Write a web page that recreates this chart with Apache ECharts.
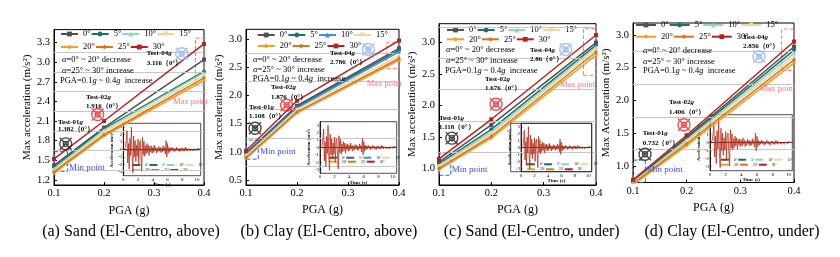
<!DOCTYPE html>
<html><head><meta charset="utf-8">
<script src="https://cdn.jsdelivr.net/npm/echarts@6/dist/echarts.min.js"></script>
<style>html,body{margin:0;padding:0;background:#fff}#c{width:840px;height:257px}</style>
</head><body><div id="c"></div>
<script>
const FONT = 'Liberation Serif';
// ---------- data ----------
const pga = [0.1, 0.2, 0.4];
const angles = ['0°', '5°', '10°', '15°', '20°', '25°', '30°'];
// max acceleration per angle (rows) at PGA 0.1/0.2/0.4
const sandAbove = [[1.42, 2.00, 3.04], [1.39, 1.98, 2.86], [1.37, 1.96, 2.84], [1.34, 1.93, 2.80], [1.30, 1.87, 2.72], [1.32, 1.89, 2.76], [1.52, 2.10, 3.28]];
const clayAbove = [[0.98, 1.82, 2.84], [0.96, 1.80, 2.81], [0.95, 1.78, 2.78], [0.93, 1.75, 2.71], [0.88, 1.69, 2.63], [0.90, 1.71, 2.66], [1.02, 1.91, 2.98]];
const sandUnder = [[1.10, 1.69, 3.00], [1.07, 1.62, 2.96], [1.05, 1.58, 2.93], [1.03, 1.55, 2.89], [0.98, 1.48, 2.80], [1.00, 1.51, 2.85], [1.15, 1.78, 3.12]];
const clayUnder = [[0.77, 1.44, 2.82], [0.76, 1.42, 2.77], [0.75, 1.40, 2.72], [0.74, 1.37, 2.67], [0.71, 1.31, 2.57], [0.73, 1.34, 2.62], [0.79, 1.47, 2.90]];
// tick labels
const yTicksA = [1.2, 1.5, 1.8, 2.1, 2.4, 2.7, 3.0, 3.3];
const yTicksB = [0.5, 1.0, 1.5, 2.0, 2.5, 3.0];
const yTicksC = [1.0, 1.5, 2.0, 2.5, 3.0];
const yTicksD = [1.0, 1.5, 2.0, 2.5, 3.0];
const grayA = [1.35, 1.65, 1.95, 2.25, 2.55, 2.85, 3.15];
const grayB = [0.75, 1.25, 1.75, 2.25, 2.75];
const grayC = [1.25, 1.75, 2.25, 2.75, 3.25];
const grayD = [1.25, 1.75, 2.25, 2.75];
// test markers (PGA, acc): Test-01g, Test-02g, Test-04g
const markA = [[0.1234, 1.75], [0.1874, 2.20], [0.3554, 3.13]];
const markB = [[0.1177, 1.42], [0.1796, 1.83], [0.340, 2.82]];
const markC = [[0.1245, 1.48], [0.2089, 2.02], [0.3422, 2.89]];
const markD = [[0.1224, 1.18], [0.1950, 1.63], [0.3348, 2.67]];
const testValsA = ['1.382', '1.916', '3.116'];
const testValsB = ['1.108', '1.876', '2.786'];
const testValsC = ['1.118', '1.676', '2.86'];
const testValsD = ['0.732', '1.406', '2.856'];
// min / max boxes [[x1,y1],[x2,y2]]
const minBoxA = [[0.101, 1.33], [0.127, 1.63]], maxBoxA = [[0.383, 2.65], [0.4, 3.37]];
const minBoxB = [[0.101, 0.87], [0.124, 1.21]], maxBoxB = [[0.376, 2.48], [0.4, 2.95]];
const minBoxC = [[0.101, 0.89], [0.1225, 1.23]], maxBoxC = [[0.376, 2.48], [0.4, 3.22]];
const minBoxD = [[0.101, 0.75], [0.123, 1.09]], maxBoxD = [[0.377, 2.46], [0.4, 3.09]];
// inset: El-Centro acceleration record (m/s2), sampled every 0.1 s
const insetDt = 0.1;
const insetAcc = [0, 0.1, -0.2, 0.3, 1.2, 2.5, -1.8, 0.8, -2.6, 1.5, -0.8, 3.0, -1.2, -3.1, 1.8, -1.0, 1.2, -1.6, 0.6, -0.9,
  1.4, -2.0, 0.9, 1.2, -1.1, -2.9, 1.6, -0.7, 1.1, -0.9, 0.5, -0.6, 0.8, -0.4, 0.6, -0.8, 0.4, -0.3, 0.5, -0.5,
  0.3, -0.4, 0.6, -0.2, 0.3, -0.5, 0.2, -0.3, 0.4, -0.2, 0.3, -0.4, 0.2, -0.3, 0.5, -0.2, 0.3, -0.6, 1.2, -1.0,
  0.8, -0.5, 0.3, -0.3, 0.2, -0.2, 0.3, -0.1, 0.2, -0.3, 0.1, -0.2, 0.3, -0.1, 0.2, -0.2, 0.1, -0.3, 0.2, -0.1,
  0.2, -0.2, 0.1, -0.2, 0.3, -0.1, 0.2, -0.2, 0.1, -0.1, 0.2, -0.2, 0.1, -0.1, 0.2, -0.2, 0.1, -0.1, 0.2, -0.1,
  0.1, -0.2, 0.1, -0.1, 0.1, 0];
const insetTicks = [-3, -2, -1, 0, 1, 2, 3];

// ---------- styles ----------
const colors = ['#505050', '#1f6e73', '#8fd6bd', '#efd69c', '#f4a020', '#d9731c', '#b3231f'];
const colorsB = ['#505050', '#1f6e73', '#3f8ee0', '#efd69c', '#f4a020', '#d9731c', '#b3231f'];
const symbols = ['rect', 'circle', 'triangle', 'triangle', 'diamond', 'diamond', 'rect'];
const symRot = [0, 0, 0, 180, 0, 0, 0];
const markColors = ['#1a1a1a', '#e8262a', '#92b2e8'];
const XMARK = 'path://M50,12 A38,38 0 1,1 49.9,12 Z M50,34 A16,16 0 1,1 49.9,34 Z M12,12 L88,88 M88,12 L12,88';

const panels = [
  { id: 'a', vals: sandAbove, cols: colors, grid: { left: 54, top: 29.6, width: 150, height: 155.4 }, ymin: 1.12, ymax: 3.5, yt: yTicksA, gray: grayA,
    yname: 'Max acceleration (m/s²)', ygap: 15, xgap: 20, mark: markA, tv: testValsA, minBox: minBoxA, maxBox: maxBoxA,
    leg: { left: 60, r1: 34, r2: 47, iw: 17, tw: 10 }, inset: { left: 123.3, top: 123.3, width: 77.4, height: 52.4 }, ileg: { dx: 8, r1: -10.7, r2: -5.7 },
    caption: '(a) Sand (El-Centro, above)', cx: 131,
    txt: { dec: [62, 60], inc: [62, 70.7], pga: [60, 80.7], t1: [58, 121.7], v1: [58, 129], t2: [86, 97], v2: [86, 106], t4: [146.7, 53.3], v4: [146.7, 62.7], mn: [69, 168], mx: [173, 101.7] } },
  { id: 'b', vals: clayAbove, cols: colorsB, grid: { left: 246, top: 29.3, width: 153, height: 155.7 }, ymin: 0.41, ymax: 3.18, yt: yTicksB, gray: grayB,
    yname: 'Max acceleration (m/s²)', ygap: 14.5, xgap: 19, mark: markB, tv: testValsB, minBox: minBoxB, maxBox: maxBoxB,
    leg: { left: 256.7, r1: 35, r2: 46, iw: 17, tw: 10 }, inset: { left: 320, top: 121.7, width: 76.7, height: 51.6 }, ileg: { dx: 8, r1: -15.6, r2: -11.6 },
    caption: '(b) Clay (El-Centro, above)', cx: 329,
    txt: { dec: [253, 60], inc: [253, 69.3], pga: [252.7, 79], t1: [249, 107.3], v1: [249, 116], t2: [271, 87.3], v2: [271, 96.7], t4: [330, 53.3], v4: [330, 61.7], mn: [260, 151.7], mx: [366.7, 83.3] } },
  { id: 'c', vals: sandUnder, cols: colors, grid: { left: 439, top: 23.7, width: 157, height: 161.3 }, ymin: 0.735, ymax: 3.3, yt: yTicksC, gray: grayC,
    yname: 'Max acceleration (m/s²)', ygap: 18.5, xgap: 19, mark: markC, tv: testValsC, minBox: minBoxC, maxBox: maxBoxC,
    leg: { left: 446, r1: 30, r2: 39.3, iw: 17, tw: 10.7 }, inset: { left: 521, top: 123.3, width: 70.7, height: 48.4 }, ileg: { dx: 5, r1: -7.4, r2: -2.4 },
    caption: '(c) Sand (El-Centro, under)', cx: 531.7,
    txt: { dec: [446, 49.3], inc: [446, 60.7], pga: [445, 70.7], t1: [439, 118.3], v1: [439, 127.3], t2: [485, 79.3], v2: [485, 88.3], t4: [530, 50], v4: [530, 58.7], mn: [451.7, 169.3], mx: [560, 85] } },
  { id: 'd', vals: clayUnder, cols: colors, grid: { left: 633, top: 23, width: 161, height: 159.5 }, ymin: 0.748, ymax: 3.183, yt: yTicksD, gray: grayD,
    yname: 'Max Acceleration (m/s²)', ygap: 15, xgap: 18, mark: markD, tv: testValsD, minBox: minBoxD, maxBox: maxBoxD,
    leg: { left: 635, r1: 25, r2: 36.7, iw: 20, tw: 12 }, inset: { left: 710, top: 114.7, width: 82.3, height: 56 }, ileg: { dx: 10, r1: -11, r2: -6 },
    caption: '(d) Clay (El-Centro, under)', cx: 732,
    txt: { dec: [643, 50.7], inc: [643, 61.7], pga: [643, 71], t1: [642.7, 133.3], v1: [642.7, 143.3], t2: [669, 101.7], v2: [669, 111.7], t4: [743, 36.7], v4: [743, 45.7], mn: [647, 170], mx: [760, 88.3] } }
];

const grids = [], xAxes = [], yAxes = [], series = [], legends = [], graphics = [];
const nameOf = (p, a) => p.id + '|' + a;
const insetData = insetAcc.map((v, k) => [+(k * insetDt).toFixed(1), v]);

function txt(x, y, text, size, opts) {
  graphics.push(Object.assign({ type: 'text', x: x, y: y, z: 100, style: Object.assign({
    text: text, fontFamily: FONT, fontSize: size, fill: '#000', verticalAlign: 'middle', align: 'left'
  }, opts || {}) }));
}

panels.forEach((p, i) => {
  const gi = i * 2, ii = i * 2 + 1;
  grids.push(Object.assign({ show: true, borderColor: '#000', borderWidth: 1, backgroundColor: 'transparent' }, p.grid));
  grids.push(Object.assign({ show: true, borderColor: '#222', borderWidth: 0.8, backgroundColor: 'transparent' }, p.inset));
  xAxes.push({ type: 'value', gridIndex: gi, min: 0.1, max: 0.4, interval: 0.1,
    name: 'PGA (g)', nameLocation: 'middle', nameGap: p.xgap, nameTextStyle: { fontFamily: FONT, fontSize: 12, color: '#000' },
    axisLine: { lineStyle: { color: '#000' } }, axisTick: { inside: true, length: 3, lineStyle: { color: '#000' } },
    axisLabel: { fontFamily: FONT, fontSize: 10.5, color: '#000', margin: 3, formatter: v => v.toFixed(1) }, splitLine: { show: false } });
  yAxes.push({ type: 'value', gridIndex: gi, min: p.ymin, max: p.ymax,
    name: p.yname, nameLocation: 'middle', nameGap: p.ygap, nameRotate: 90, nameTextStyle: { fontFamily: FONT, fontSize: 11, color: '#000' },
    axisLine: { lineStyle: { color: '#000' } }, axisTick: { customValues: p.yt, inside: true, length: 3, lineStyle: { color: '#000' } },
    axisLabel: { customValues: p.yt, fontFamily: FONT, fontSize: 10.5, color: '#000', margin: 4, formatter: v => v.toFixed(1) }, splitLine: { show: false } });
  xAxes.push({ type: 'value', gridIndex: ii, min: 0, max: 10.5, interval: 2,
    name: 'Time (s)', nameLocation: 'middle', nameGap: 6, nameTextStyle: { fontFamily: FONT, fontSize: 5, fontWeight: 'bold', color: '#000' },
    axisLine: { lineStyle: { color: '#000', width: 0.8 } }, axisTick: { inside: true, length: 1.5, lineStyle: { color: '#000', width: 0.5 } },
    axisLabel: { fontFamily: FONT, fontSize: 5, color: '#000', margin: 1 }, splitLine: { show: false } });
  yAxes.push({ type: 'value', gridIndex: ii, min: -3.5, max: 3.5,
    name: 'Acceleration (m/s²)', nameLocation: 'middle', nameGap: 6, nameRotate: 90, nameTextStyle: { fontFamily: FONT, fontSize: 4.5, fontWeight: 'bold', color: '#000' },
    axisLine: { lineStyle: { color: '#000', width: 0.8 } }, axisTick: { customValues: insetTicks, inside: true, length: 1.5, lineStyle: { color: '#000', width: 0.5 } },
    axisLabel: { customValues: insetTicks, fontFamily: FONT, fontSize: 5, color: '#000', margin: 1 }, splitLine: { show: false } });

  // background gray lines
  series.push({ type: 'line', name: p.id + '|bg', xAxisIndex: gi, yAxisIndex: gi, data: [], z: 1, silent: true,
    markLine: { silent: true, symbol: ['none', 'none'], label: { show: false }, animation: false,
      lineStyle: { color: '#c6c6c6', width: 1.2, type: 'solid' }, data: p.gray.map(v => ({ yAxis: v })) } });
  // curves
  angles.forEach((a, j) => {
    series.push({ type: 'line', name: nameOf(p, a), xAxisIndex: gi, yAxisIndex: gi, z: 3 + j,
      data: pga.map((x, k) => [x, p.vals[j][k]]),
      symbol: symbols[j], symbolRotate: symRot[j], symbolSize: 4, showSymbol: true,
      lineStyle: { width: 1.5, color: p.cols[j] }, itemStyle: { color: p.cols[j] }, emphasis: { disabled: true } });
  });
  // test markers + min/max boxes
  series.push({ type: 'scatter', name: p.id + '|mk', xAxisIndex: gi, yAxisIndex: gi, z: 12, silent: true,
    symbol: XMARK, symbolSize: 12, symbolKeepAspect: true,
    itemStyle: { color: 'rgba(0,0,0,0)', borderWidth: 1.4 },
    data: p.mark.map((pt, k) => ({ value: pt, itemStyle: { borderColor: markColors[k] } })),
    markArea: { silent: true, animation: false, label: { show: false },
      itemStyle: { color: 'rgba(0,0,0,0)', borderWidth: 1, borderType: 'dashed' },
      data: [
        [{ coord: p.minBox[0], itemStyle: { borderColor: '#3a55ff', color: 'rgba(0,0,0,0)', borderType: 'dashed', borderWidth: 1 } }, { coord: p.minBox[1] }],
        [{ coord: p.maxBox[0], itemStyle: { borderColor: '#f07a8a', color: 'rgba(0,0,0,0)', borderType: 'dashed', borderWidth: 1 } }, { coord: p.maxBox[1] }]
      ] } });
  // inset record
  series.push({ type: 'line', name: p.id + '|inset', xAxisIndex: ii, yAxisIndex: ii, z: 6, silent: true,
    data: insetData, showSymbol: false, lineStyle: { width: 0.8, color: '#b8301c' } });

  // legends
  const mk = (names, top, left, iw, ih, tw, fs, gap) => ({
    data: names, top: top, left: left, orient: 'horizontal', itemWidth: iw, itemHeight: ih, itemGap: gap, padding: 0,
    selectedMode: false, formatter: n => n.split('|')[1],
    textStyle: { fontFamily: FONT, fontSize: fs, color: '#000', width: tw }
  });
  const row1 = angles.slice(0, 4).map(a => nameOf(p, a)), row2 = angles.slice(4).map(a => nameOf(p, a));
  legends.push(mk(row1, p.leg.r1 - 4.5, p.leg.left, p.leg.iw, 6, p.leg.tw, 8.5, 0));
  legends.push(mk(row2, p.leg.r2 - 4.5, p.leg.left, p.leg.iw, 6, p.leg.tw, 8.5, 0));
  const ib = p.inset.top + p.inset.height;
  legends.push(mk(row1, ib + p.ileg.r1 - 2, p.inset.left + p.ileg.dx, 8, 2, 5, 3.5, 0));
  legends.push(mk(row2, ib + p.ileg.r2 - 2, p.inset.left + p.ileg.dx, 8, 2, 5, 3.5, 0));

  // annotations
  const t = p.txt;
  const it = { i: { fontStyle: 'italic', fontFamily: FONT, fontSize: 8.5 } };
  const itb = { i: { fontStyle: 'italic', fontWeight: 'bold', fontFamily: FONT, fontSize: 7 } };
  txt(t.dec[0], t.dec[1], '{i|α}=0° ~ 20° decrease', 8.5, { rich: it });
  txt(t.inc[0], t.inc[1], '{i|α}=25° ~ 30° increase', 8.5, { rich: it });
  txt(t.pga[0], t.pga[1], 'PGA=0.1{i|g} ~ 0.4{i|g}  increase', 8.5, { rich: it });
  txt(t.t1[0], t.t1[1], 'Test-01{i|g}', 7, { rich: itb, fontWeight: 'bold' });
  txt(t.v1[0], t.v1[1], p.tv[0] + '（0°）', 7, { fontWeight: 'bold' });
  txt(t.t2[0], t.t2[1], 'Test-02{i|g}', 7, { rich: itb, fontWeight: 'bold' });
  txt(t.v2[0], t.v2[1], p.tv[1] + '（0°）', 7, { fontWeight: 'bold' });
  txt(t.t4[0], t.t4[1], 'Test-04{i|g}', 7, { rich: itb, fontWeight: 'bold' });
  txt(t.v4[0], t.v4[1], p.tv[2] + '（0°）', 7, { fontWeight: 'bold' });
  txt(t.mn[0], t.mn[1], 'Min point', 9, { fill: '#3a4dff' });
  txt(t.mx[0], t.mx[1], 'Max point', 8.5, { fill: '#f07a8a' });
  txt(p.cx, 232, p.caption, 16, { align: 'center' });
});
// outer frame of inset (c)
graphics.push({ type: 'rect', z: 50, shape: { x: 510.7, y: 123.3, width: 81, height: 48.4 }, style: { fill: 'none', stroke: '#222', lineWidth: 0.8 } });

const chart = echarts.init(document.getElementById('c'));
chart.setOption({
  animation: false, backgroundColor: '#fff',
  grid: grids, xAxis: xAxes, yAxis: yAxes, series: series, legend: legends, graphic: graphics
});
</script></body></html>
